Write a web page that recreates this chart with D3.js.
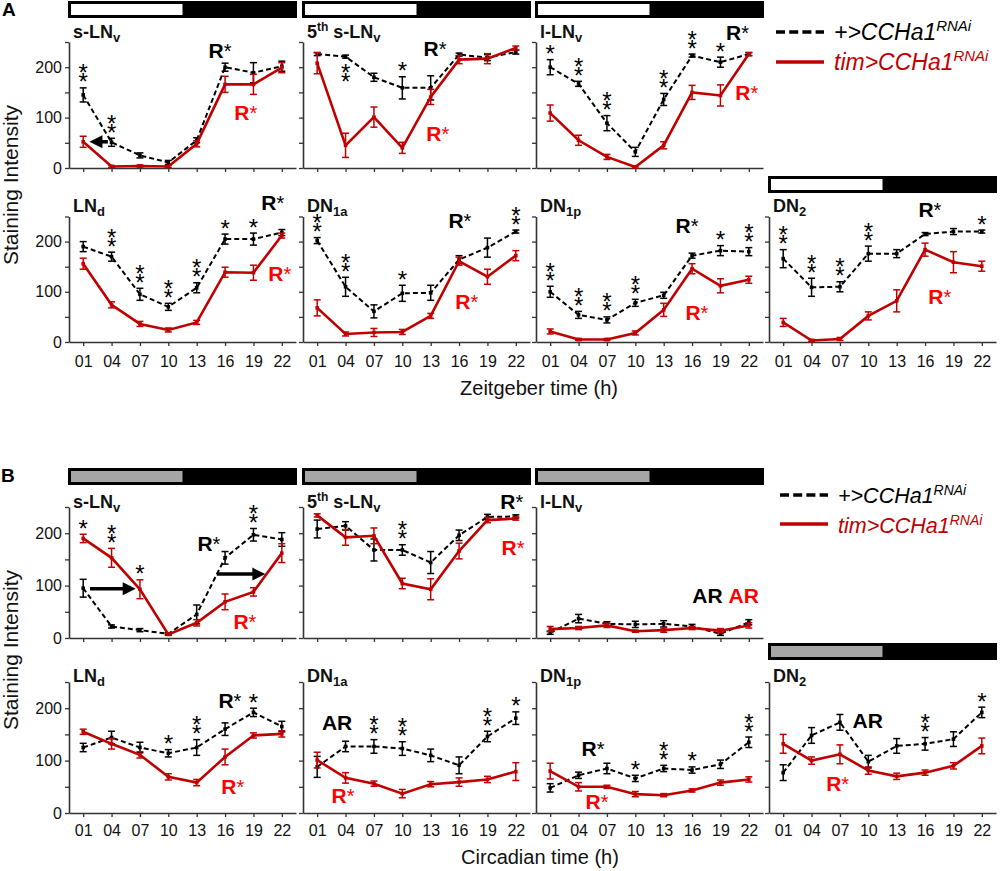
<!DOCTYPE html>
<html><head><meta charset="utf-8">
<script src="https://cdn.jsdelivr.net/npm/d3@7"></script>
<style>
body{margin:0;background:#fff}
svg{display:block;font-family:"Liberation Sans",Arial,Helvetica,sans-serif}
</style>
</head><body>
<svg id="c" width="1000" height="871"></svg>
<script>
// ---------------- DATA ----------------
const times = ["01","04","07","10","13","16","19","22"];
const yTicks = [0,50,100,150,200,250];
const legendCtrl = "+>CCHa1";
const legendTim = "tim>CCHa1";
const legendSup = "RNAi";

// Panel A (LD, Zeitgeber time)
const aSLNvCtrl = [145,51,25,11,55,200,189,202];
const aSLNvCtrlErr = [14,8,5,4,5,8,20,10];
const aSLNvTim = [52,3,4,3,48,166,166,199];
const aSLNvTimErr = [11,2,2,2,6,16,20,10];
const aSLNvStars = [2,2,0,0,0,0,0,0];

const a5thCtrl = [226,221,180,159,159,225,219,230];
const a5thCtrlErr = [3,3,8,22,24,3,6,4];
const a5thTim = [208,45,101,40,141,215,217,238];
const a5thTimErr = [21,24,20,11,15,8,10,4];
const a5thStars = [0,2,0,1,0,0,0,0];
const a5thStarsBelow = [1];

const aLLNvCtrl = [200,167,89,32,136,223,210,226];
const aLLNvCtrlErr = [15,5,15,9,12,3,10,3];
const aLLNvTim = [109,55,22,2,45,150,144,226];
const aLLNvTimErr = [16,10,5,2,7,14,21,3];
const aLLNvStars = [1,2,2,0,2,2,1,0];

const aLNdCtrl = [190,170,95,70,108,205,205,218];
const aLNdCtrlErr = [10,9,12,7,10,10,12,6];
const aLNdTim = [156,74,36,24,39,139,138,212];
const aLNdTimErr = [11,6,5,4,4,10,15,5];
const aLNdStars = [0,2,2,2,2,1,1,0];

const aDN1aCtrl = [202,110,61,97,98,164,188,220];
const aDN1aCtrlErr = [6,19,13,16,15,8,19,3];
const aDN1aTim = [68,16,19,20,52,161,130,172];
const aDN1aTimErr = [16,4,8,5,5,8,15,10];
const aDN1aStars = [2,2,0,1,0,0,0,2];

const aDN1pCtrl = [100,54,44,78,93,172,182,180];
const aDN1pCtrlErr = [11,7,6,7,6,5,10,8];
const aDN1pTim = [21,5,5,18,64,146,112,124];
const aDN1pTimErr = [5,2,2,4,13,10,14,7];
const aDN1pStars = [2,2,2,2,0,0,1,2];

const aDN2Ctrl = [166,109,110,176,176,215,220,220];
const aDN2CtrlErr = [18,18,10,15,8,3,6,3];
const aDN2Tim = [39,3,6,52,82,184,159,151];
const aDN2TimErr = [8,2,3,8,22,13,21,10];
const aDN2Stars = [2,2,2,2,0,0,0,1];

// Panel B (DD, Circadian time)
const bSLNvCtrl = [95,22,15,8,45,153,197,188];
const bSLNvCtrlErr = [17,3,3,2,18,12,12,13];
const bSLNvTim = [190,153,93,7,29,69,88,162];
const bSLNvTimErr = [8,18,18,2,6,15,8,18];
const bSLNvStars = [1,2,1,0,0,0,2,0];

const b5thCtrl = [208,214,168,168,144,196,231,232];
const b5thCtrlErr = [17,8,21,10,21,10,5,3];
const b5thTim = [234,192,195,104,93,166,225,228];
const b5thTimErr = [3,15,15,10,20,15,5,3];
const b5thStars = [0,0,0,2,0,0,0,0];

const bLLNvCtrl = [10,37,27,26,27,22,8,30];
const bLLNvCtrlErr = [3,8,4,6,6,4,3,5];
const bLLNvTim = [17,19,24,13,15,19,14,24];
const bLLNvTimErr = [5,3,4,2,4,3,4,5];
const bLLNvStars = [0,0,0,0,0,0,0,0];

const bLNdCtrl = [125,144,125,114,125,160,192,165];
const bLNdCtrlErr = [8,12,10,7,15,12,8,10];
const bLNdTim = [155,132,111,69,58,107,148,151];
const bLNdTimErr = [5,10,6,6,6,15,5,6];
const bLNdStars = [0,0,0,1,2,0,1,0];

const bDN1aCtrl = [88,127,127,123,110,91,146,181];
const bDN1aCtrlErr = [20,10,13,13,12,16,10,12];
const bDN1aTim = [101,67,56,37,55,59,64,79];
const bDN1aTimErr = [15,10,5,8,5,8,6,17];
const bDN1aStars = [0,0,2,2,0,0,2,1];

const bDN1pCtrl = [48,72,85,66,85,82,93,135];
const bDN1pCtrlErr = [8,6,10,6,6,6,8,10];
const bDN1pTim = [80,50,50,36,34,43,58,64];
const bDN1pTimErr = [15,8,3,5,3,3,5,5];
const bDN1pStars = [0,0,0,1,2,1,0,2];

const bDN2Ctrl = [77,148,173,98,128,132,141,192];
const bDN2CtrlErr = [15,15,15,12,14,12,14,10];
const bDN2Tim = [132,100,112,81,70,77,90,128];
const bDN2TimErr = [18,7,18,7,6,5,6,15];
const bDN2Stars = [0,0,0,0,0,2,0,1];

// Annotation labels in data units: i = category index (fractional), v = intensity
// parts: [text, 0 = black / 1 = red]
const aSLNvNotes = [{p:[["R*",0]],i:4.82,v:234},{p:[["R*",1]],i:5.73,v:111}];
const a5thNotes  = [{p:[["R*",0]],i:4.15,v:238},{p:[["R*",1]],i:4.25,v:69}];
const aLLNvNotes = [{p:[["R*",0]],i:6.6,v:268},{p:[["R*",1]],i:6.93,v:149}];
const aLNdNotes  = [{p:[["R*",0]],i:6.68,v:277},{p:[["R*",1]],i:6.93,v:137}];
const aDN1aNotes = [{p:[["R*",0]],i:5.03,v:243},{p:[["R*",1]],i:5.27,v:80}];
const aDN1pNotes = [{p:[["R*",0]],i:4.82,v:233},{p:[["R*",1]],i:5.17,v:58}];
const aDN2Notes  = [{p:[["R*",0]],i:5.17,v:263},{p:[["R*",1]],i:5.52,v:90}];
const bSLNvNotes = [{p:[["R*",0]],i:4.43,v:181},{p:[["R*",1]],i:5.7,v:31}];
const b5thNotes  = [{p:[["R*",0]],i:6.86,v:260},{p:[["R*",1]],i:6.9,v:172}];
const bLLNvNotes = [{p:[["AR",0],["AR",1]],i:6.18,v:82}];
const bLNdNotes  = [{p:[["R*",0]],i:5.17,v:214},{p:[["R*",1]],i:5.27,v:50}];
const bDN1aNotes = [{p:[["AR",0]],i:0.7,v:172},{p:[["R*",1]],i:0.91,v:34}];
const bDN1pNotes = [{p:[["R*",0]],i:1.51,v:124},{p:[["R*",1]],i:1.65,v:21}];
const bDN2Notes  = [{p:[["AR",0]],i:2.98,v:177},{p:[["R*",1]],i:1.92,v:57}];

// Arrows in data units (from -> to)
const aSLNvArrows = [{i0:0.87,i1:0.22,v:52}];
const bSLNvArrows = [{i0:0.24,i1:1.85,v:94},{i0:4.71,i1:6.42,v:122}];

// ---------------- LAYOUT ----------------
const RED = "#c00000", BRIGHT = "#ff0000";
const svg = d3.select("#c");
const LEFTS = [69, 303, 536, 769];
const PW = 227;
const rows = {
  A1:{y0:168, y1:42, xl:false, tb:38},
  A2:{y0:342, y1:216.5, xl:true, tb:212, pad:10},
  B1:{y0:638, y1:507, xl:false, tb:508},
  B2:{y0:813, y1:682, xl:true, tb:682, pad:8}
};

const panels = [
 {row:"A1",col:0,title:[["s-LN",""],["v","sub"]],c:aSLNvCtrl,ce:aSLNvCtrlErr,t:aSLNvTim,te:aSLNvTimErr,s:aSLNvStars,n:aSLNvNotes,ar:aSLNvArrows},
 {row:"A1",col:1,title:[["5",""],["th","sup"],[" s-LN",""],["v","sub"]],c:a5thCtrl,ce:a5thCtrlErr,t:a5thTim,te:a5thTimErr,s:a5thStars,sb:a5thStarsBelow,n:a5thNotes},
 {row:"A1",col:2,title:[["l-LN",""],["v","sub"]],c:aLLNvCtrl,ce:aLLNvCtrlErr,t:aLLNvTim,te:aLLNvTimErr,s:aLLNvStars,n:aLLNvNotes},
 {row:"A2",col:0,title:[["LN",""],["d","sub"]],c:aLNdCtrl,ce:aLNdCtrlErr,t:aLNdTim,te:aLNdTimErr,s:aLNdStars,n:aLNdNotes},
 {row:"A2",col:1,title:[["DN",""],["1a","sub"]],c:aDN1aCtrl,ce:aDN1aCtrlErr,t:aDN1aTim,te:aDN1aTimErr,s:aDN1aStars,n:aDN1aNotes},
 {row:"A2",col:2,title:[["DN",""],["1p","sub"]],c:aDN1pCtrl,ce:aDN1pCtrlErr,t:aDN1pTim,te:aDN1pTimErr,s:aDN1pStars,n:aDN1pNotes},
 {row:"A2",col:3,title:[["DN",""],["2","sub"]],c:aDN2Ctrl,ce:aDN2CtrlErr,t:aDN2Tim,te:aDN2TimErr,s:aDN2Stars,n:aDN2Notes},
 {row:"B1",col:0,title:[["s-LN",""],["v","sub"]],c:bSLNvCtrl,ce:bSLNvCtrlErr,t:bSLNvTim,te:bSLNvTimErr,s:bSLNvStars,n:bSLNvNotes,ar:bSLNvArrows},
 {row:"B1",col:1,title:[["5",""],["th","sup"],[" s-LN",""],["v","sub"]],c:b5thCtrl,ce:b5thCtrlErr,t:b5thTim,te:b5thTimErr,s:b5thStars,n:b5thNotes},
 {row:"B1",col:2,title:[["l-LN",""],["v","sub"]],c:bLLNvCtrl,ce:bLLNvCtrlErr,t:bLLNvTim,te:bLLNvTimErr,s:bLLNvStars,n:bLLNvNotes},
 {row:"B2",col:0,title:[["LN",""],["d","sub"]],c:bLNdCtrl,ce:bLNdCtrlErr,t:bLNdTim,te:bLNdTimErr,s:bLNdStars,n:bLNdNotes},
 {row:"B2",col:1,title:[["DN",""],["1a","sub"]],c:bDN1aCtrl,ce:bDN1aCtrlErr,t:bDN1aTim,te:bDN1aTimErr,s:bDN1aStars,n:bDN1aNotes},
 {row:"B2",col:2,title:[["DN",""],["1p","sub"]],c:bDN1pCtrl,ce:bDN1pCtrlErr,t:bDN1pTim,te:bDN1pTimErr,s:bDN1pStars,n:bDN1pNotes},
 {row:"B2",col:3,title:[["DN",""],["2","sub"]],c:bDN2Ctrl,ce:bDN2CtrlErr,t:bDN2Tim,te:bDN2TimErr,s:bDN2Stars,n:bDN2Notes}
];

// light/dark bars
const bars = [
 {col:0,y:1,fill:"#fff"},{col:1,y:1,fill:"#fff"},{col:2,y:1,fill:"#fff"},{col:3,y:176,fill:"#fff"},
 {col:0,y:468,fill:"#a6a6a6"},{col:1,y:468,fill:"#a6a6a6"},{col:2,y:468,fill:"#a6a6a6"},{col:3,y:643,fill:"#a6a6a6"}
];
bars.forEach(b=>{
  const L = LEFTS[b.col]-1;
  svg.append("rect").attr("x",L).attr("y",b.y).attr("width",PW+2).attr("height",17).attr("fill","#000");
  svg.append("rect").attr("x",L+3).attr("y",b.y+3).attr("width",(PW+2)/2-3).attr("height",11).attr("fill",b.fill);
});

function drawPanel(p){
  const r = rows[p.row];
  const L = LEFTS[p.col];
  const x = d3.scalePoint().domain(times).range([L, L+PW]).padding(0.5);
  const y = d3.scaleLinear().domain([0,250]).range([r.y0, r.y1]);
  const xi = i => x(times[0]) + i*x.step();
  const g = svg.append("g");

  const yAx = d3.axisLeft(y).tickValues(yTicks).tickSize(4).tickSizeOuter(0).tickPadding(3)
    .tickFormat(d => (p.col===0 && d%100===0) ? d : "");
  const ya = g.append("g").attr("transform",`translate(${L},0)`).call(yAx);
  const xAx = d3.axisBottom(x).tickSize(4).tickSizeOuter(0).tickPadding(r.pad||8)
    .tickFormat(d => r.xl ? d : "");
  const xa = g.append("g").attr("transform",`translate(0,${r.y0})`).call(xAx);
  [ya,xa].forEach(a=>{
    a.select(".domain").attr("stroke","#333").attr("stroke-width",1.6);
    a.selectAll(".tick line").attr("stroke","#333").attr("stroke-width",1.3);
    a.selectAll(".tick text").attr("font-size",16).attr("fill","#111")
      .attr("font-family",'"Liberation Sans",Arial,sans-serif');
    a.selectAll(".tick text").filter(function(){return !this.textContent;}).remove();
  });

  // title
  const tt = g.append("text").attr("x",L+4).attr("y",r.tb).attr("font-size",18).attr("font-weight","bold").attr("fill","#111");
  let off = 0;
  p.title.forEach(([s,k])=>{
    const ts = tt.append("tspan").text(s);
    let want = 0;
    if(k==="sub"){ ts.attr("font-size",13); want = 4; }
    else if(k==="sup"){ ts.attr("font-size",12); want = -7; }
    ts.attr("dy", want - off); off = want;
  });

  // series
  const series = [
    {v:p.c, e:p.ce, col:"#000", dash:"5,3", w:2},
    {v:p.t, e:p.te, col:RED, dash:null, w:2.6}
  ];
  series.forEach(s=>{
    const line = d3.line().x((d,i)=>x(times[i])).y(d=>y(d));
    g.append("path").datum(s.v).attr("d",line).attr("fill","none")
      .attr("stroke",s.col).attr("stroke-width",s.w).attr("stroke-dasharray",s.dash);
    const eg = g.append("g").attr("stroke",s.col).attr("stroke-width",1.5);
    s.v.forEach((v,i)=>{
      const cx = x(times[i]), e = s.e[i];
      eg.append("line").attr("x1",cx).attr("x2",cx).attr("y1",y(v-e)).attr("y2",y(v+e));
      eg.append("line").attr("x1",cx-3.5).attr("x2",cx+3.5).attr("y1",y(v-e)).attr("y2",y(v-e));
      eg.append("line").attr("x1",cx-3.5).attr("x2",cx+3.5).attr("y1",y(v+e)).attr("y2",y(v+e));
    });
    g.selectAll(null).data(s.v).enter().append("rect")
      .attr("x",(d,i)=>x(times[i])-1.8).attr("y",d=>y(d)-1.8).attr("width",3.6).attr("height",3.6)
      .attr("fill",s.col);
  });

  // significance stars: one text node, each glyph positioned via x/y lists
  const below = p.sb || [];
  p.s.forEach((n,i)=>{
    if(!n) return;
    let topCenter;
    if(below.includes(i)){
      topCenter = y(p.c[i]-p.ce[i]) + 9;
    } else {
      const top = Math.max(p.c[i]+p.ce[i], p.t[i]+p.te[i]);
      topCenter = y(top) - 11 - 9*(n-1);
    }
    const cx = x(times[i]);
    const xs = [], ys = [];
    for(let k=0;k<n;k++){ xs.push(cx); ys.push(topCenter + 13.5 + 9*k); }
    g.append("text").attr("x",xs.join(" ")).attr("y",ys.join(" "))
      .attr("text-anchor","middle").attr("font-size",24).attr("fill","#000")
      .text("*".repeat(n));
  });

  // notes (R*, AR)
  p.n.forEach(nt=>{
    const t = g.append("text").attr("x",xi(nt.i)).attr("y",y(nt.v)+7.5)
      .attr("text-anchor","middle");
    nt.p.forEach(([s,k],j)=>{
      const col = k ? BRIGHT : "#000";
      const txt = (j>0 ? "\u00a0" : "") + s;
      if(s==="R*"){
        t.append("tspan").attr("font-weight","bold").attr("font-size",21).attr("fill",col).text(txt.replace("*",""));
        t.append("tspan").attr("font-size",20).attr("fill",col).text("*");
      } else {
        t.append("tspan").attr("font-weight","bold").attr("font-size",21).attr("fill",col).text(txt);
      }
    });
  });

  // arrows
  (p.ar||[]).forEach(a=>{
    const x0 = xi(a.i0), x1 = xi(a.i1), yy = y(a.v);
    const dir = Math.sign(x1-x0);
    g.append("line").attr("x1",x0).attr("x2",x1-dir*9).attr("y1",yy).attr("y2",yy)
      .attr("stroke","#000").attr("stroke-width",3.5);
    g.append("path").attr("d",`M${x1},${yy}L${x1-dir*13},${yy-6.5}L${x1-dir*13},${yy+6.5}Z`).attr("fill","#000");
  });
}
panels.forEach(drawPanel);

// legends
function legend(x0, y1, y2, fs, tb1, tb2){
  svg.append("line").attr("x1",x0-58).attr("x2",x0-10).attr("y1",y1).attr("y2",y1)
    .attr("stroke","#000").attr("stroke-width",3.5).attr("stroke-dasharray","9,4.2");
  svg.append("line").attr("x1",x0-58).attr("x2",x0-10).attr("y1",y2).attr("y2",y2)
    .attr("stroke",RED).attr("stroke-width",3.5);
  const t1 = svg.append("text").attr("x",x0).attr("y",tb1).attr("font-size",fs).attr("font-style","italic").attr("fill","#000");
  t1.append("tspan").text(legendCtrl);
  t1.append("tspan").attr("font-size",fs*0.65).attr("dy",-fs*0.38).text(legendSup);
  const t2 = svg.append("text").attr("x",x0).attr("y",tb2).attr("font-size",fs).attr("font-style","italic").attr("fill",RED);
  t2.append("tspan").text(legendTim);
  t2.append("tspan").attr("font-size",fs*0.65).attr("dy",-fs*0.38).text(legendSup);
}
legend(834, 32, 62, 23, 40, 70);
legend(838, 495, 524, 21.5, 503, 533);

// section letters
svg.append("text").attr("x",2).attr("y",16).attr("font-size",19).attr("font-weight","bold").text("A");
svg.append("text").attr("x",1).attr("y",482).attr("font-size",19).attr("font-weight","bold").text("B");

// axis titles
[[185,"Staining Intensity"],[650,"Staining Intensity"]].forEach(([cy,s])=>{
  svg.append("text").attr("transform",`translate(18,${cy}) rotate(-90)`).attr("text-anchor","middle")
    .attr("font-size",21).attr("fill","#111").text(s);
});
svg.append("text").attr("x",539).attr("y",395).attr("text-anchor","middle").attr("font-size",20).attr("fill","#111").text("Zeitgeber time (h)");
svg.append("text").attr("x",540).attr("y",864).attr("text-anchor","middle").attr("font-size",20).attr("fill","#111").text("Circadian time (h)");
</script>
</body></html>
